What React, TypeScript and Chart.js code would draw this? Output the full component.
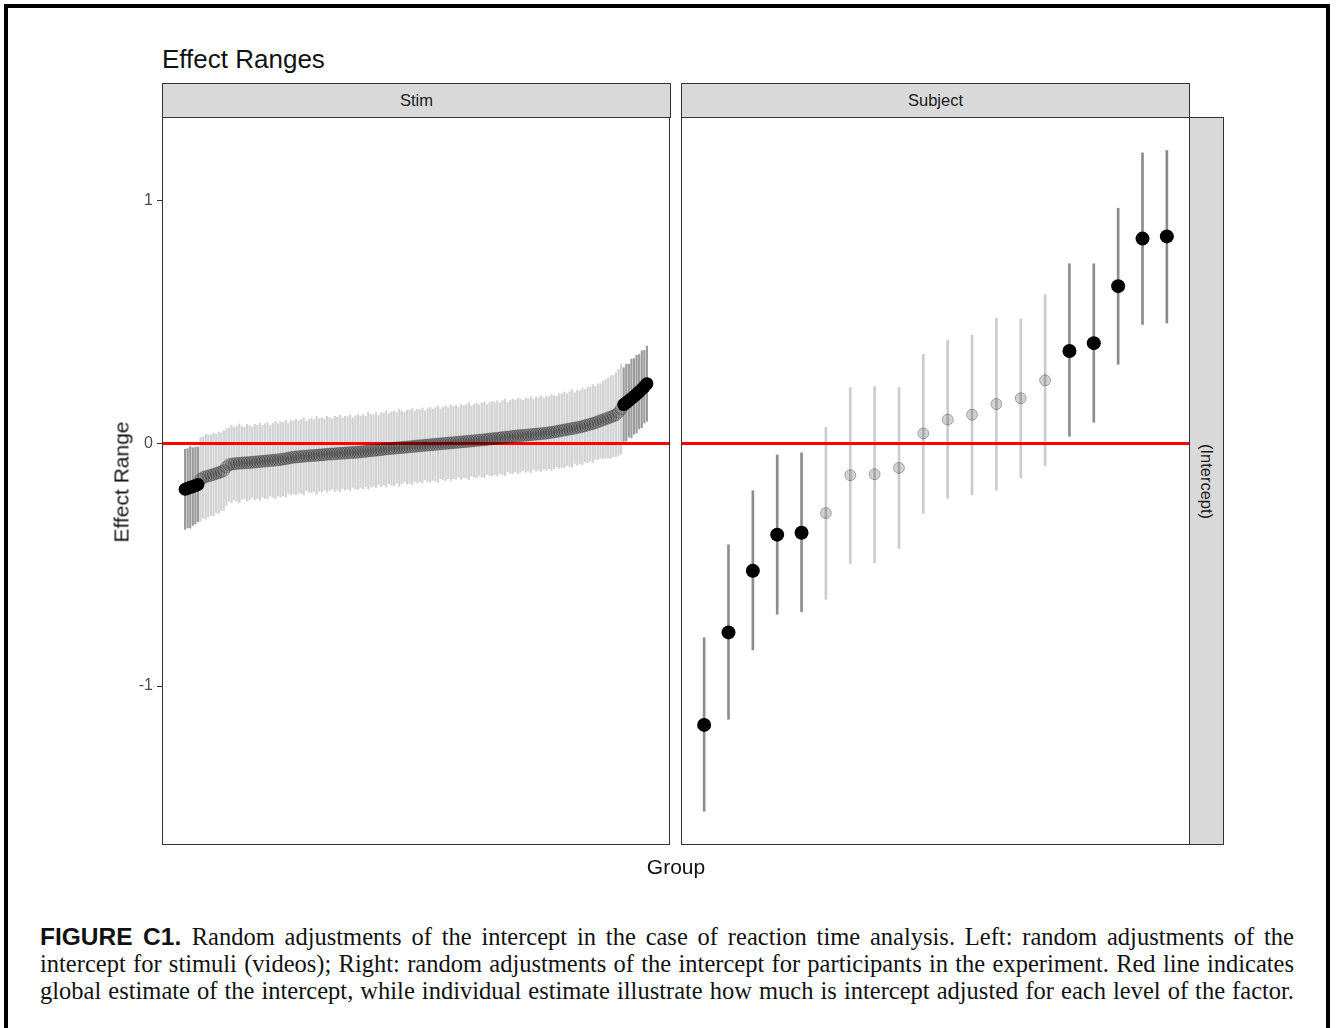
import React, { useEffect, useRef } from "react";
import { Chart, registerables } from "chart.js";

Chart.register(...registerables);

// ---------- text ----------
const TITLE = "Effect Ranges";
const Y_TITLE = "Effect Range";
const X_TITLE = "Group";
const FACETS = ["Stim", "Subject"];
const ROW_STRIP = "(Intercept)";
const CAPTION_LEAD = "FIGURE C1.";
const CAPTION_LINES = [
  "Random adjustments of the intercept in the case of reaction time analysis. Left: random adjustments of the",
  "intercept for stimuli (videos); Right: random adjustments of the intercept for participants in the experiment. Red line indicates",
  "global estimate of the intercept, while individual estimate illustrate how much is intercept adjusted for each level of the factor.",
];

// ---------- axis ----------
const Y_TICKS = [-1, 0, 1];
const Y_RANGE = [-1.655, 1.345];
const REF_VALUE = 0;

// ---------- Stim (left panel): estimate and half-width of interval ----------
const STIM_MID = [
  -0.189, -0.185, -0.181, -0.178, -0.174, -0.169,
  -0.148, -0.141, -0.137, -0.134, -0.131, -0.128, -0.124, -0.121, -0.117, -0.112,
  -0.097, -0.088,
  -0.085, -0.084, -0.083, -0.082, -0.081, -0.080, -0.080, -0.079, -0.078, -0.077, -0.076, -0.075, -0.074,
  -0.073, -0.072, -0.071, -0.070, -0.069, -0.068, -0.066, -0.065, -0.063, -0.061, -0.059, -0.057,
  -0.056, -0.055, -0.054, -0.053, -0.052, -0.051, -0.050, -0.050, -0.049, -0.048, -0.047, -0.046, -0.045,
  -0.044, -0.044, -0.043, -0.042, -0.041, -0.041, -0.040, -0.039, -0.038, -0.038, -0.037, -0.036, -0.035,
  -0.034, -0.033, -0.031, -0.030, -0.029, -0.028, -0.027, -0.026, -0.024, -0.023, -0.022, -0.021, -0.020,
  -0.019, -0.018, -0.017, -0.016, -0.015, -0.014, -0.013, -0.012, -0.011, -0.010, -0.009, -0.008, -0.007,
  -0.006, -0.005, -0.004, -0.003, -0.002, -0.001, 0.000, 0.001, 0.002, 0.003, 0.004, 0.005, 0.006,
  0.007, 0.008, 0.009, 0.010, 0.011, 0.012, 0.013, 0.014, 0.015, 0.016, 0.018, 0.019,
  0.020, 0.021, 0.022, 0.024, 0.025, 0.026, 0.027, 0.029, 0.030, 0.031, 0.032, 0.033, 0.034,
  0.035, 0.036, 0.037, 0.038, 0.039, 0.040, 0.041, 0.042, 0.044, 0.045, 0.047, 0.049, 0.051,
  0.053, 0.055, 0.057, 0.059, 0.061, 0.063, 0.065, 0.067, 0.070, 0.073, 0.076, 0.079, 0.082, 0.085, 0.089,
  0.093, 0.097, 0.101, 0.105, 0.109, 0.113, 0.118, 0.128, 0.142,
  0.160, 0.168, 0.176, 0.185, 0.194, 0.203, 0.213, 0.223, 0.234, 0.246,
];
const STIM_HW = [
  0.165, 0.163, 0.168, 0.160, 0.158, 0.154,
  0.172, 0.168, 0.175, 0.170, 0.166, 0.171, 0.162, 0.168, 0.160, 0.164,
  0.158, 0.152, 0.160, 0.149, 0.155, 0.162, 0.150, 0.147, 0.158, 0.153, 0.145, 0.156, 0.151, 0.159,
  0.148, 0.154, 0.157, 0.146, 0.152, 0.160, 0.149, 0.155, 0.151, 0.158, 0.144, 0.153, 0.150,
  0.156, 0.148, 0.152, 0.159, 0.143, 0.150, 0.155, 0.147, 0.161, 0.149, 0.153, 0.146, 0.157,
  0.151, 0.144, 0.155, 0.150, 0.158, 0.146, 0.152, 0.149, 0.156, 0.143, 0.151, 0.154, 0.147,
  0.153, 0.145, 0.158, 0.150, 0.147, 0.155, 0.142, 0.152, 0.148, 0.157, 0.144, 0.151, 0.154,
  0.146, 0.159, 0.149, 0.143, 0.153, 0.150, 0.156, 0.145, 0.152, 0.148, 0.155, 0.142, 0.150,
  0.154, 0.147, 0.151, 0.158, 0.144, 0.150, 0.153, 0.146, 0.157, 0.149, 0.152, 0.143, 0.155,
  0.148, 0.151, 0.159, 0.145, 0.150, 0.154, 0.147, 0.152, 0.156, 0.144, 0.150, 0.153,
  0.149, 0.155, 0.146, 0.152, 0.158, 0.143, 0.150, 0.154, 0.147, 0.156, 0.151, 0.145, 0.153,
  0.149, 0.157, 0.144, 0.152, 0.150, 0.155, 0.146, 0.153, 0.148, 0.156, 0.150, 0.145, 0.154,
  0.151, 0.157, 0.148, 0.153, 0.160, 0.146, 0.154, 0.150, 0.158, 0.149, 0.155, 0.152, 0.161,
  0.150, 0.156, 0.153, 0.159, 0.162,
  0.165, 0.170, 0.168, 0.172, 0.178, 0.185,
  0.152, 0.158, 0.150, 0.162, 0.155, 0.160, 0.153, 0.158, 0.150, 0.155,
];
const STIM_LO = STIM_MID.map((m, i) => m - STIM_HW[i]);
const STIM_HI = STIM_MID.map((m, i) => m + STIM_HW[i]);

// ---------- Subject (right panel) ----------
const SUBJ_MID = [-1.160, -0.779, -0.525, -0.376, -0.368, -0.287, -0.131, -0.127, -0.101, 0.041,
  0.098, 0.118, 0.162, 0.186, 0.260, 0.381, 0.413, 0.648, 0.844, 0.853];
const SUBJ_HI = [-0.801, -0.418, -0.195, -0.048, -0.039, 0.066, 0.230, 0.234, 0.230, 0.367,
  0.426, 0.446, 0.516, 0.512, 0.613, 0.740, 0.740, 0.969, 1.197, 1.207];
const SUBJ_LO = [-1.516, -1.137, -0.851, -0.704, -0.694, -0.643, -0.496, -0.492, -0.433, -0.289,
  -0.227, -0.212, -0.193, -0.142, -0.092, 0.029, 0.087, 0.326, 0.490, 0.496];

const SANS = '"Liberation Sans", Arial, Helvetica, sans-serif';
const SERIF = '"Liberation Serif", "Times New Roman", serif';

type Style = {
  nsBar: string; sigBar: string; barW: number;
  sigR: number; nsR: number; nsFill: string; nsBorder: string;
};

const panelBox = {
  id: "panelBox",
  afterDraw(chart: any) {
    const { left, top, right, bottom } = chart.chartArea;
    const ctx = chart.ctx;
    ctx.save();
    ctx.strokeStyle = "#333333";
    ctx.lineWidth = 1;
    ctx.strokeRect(Math.round(left) + 0.5, Math.round(top) + 0.5,
      Math.round(right - left) - 1, Math.round(bottom - top) - 1);
    ctx.restore();
  },
};

function buildConfig(mid: number[], lo: number[], hi: number[], st: Style, showY: boolean,
  pad: { left: number; right: number; top: number; bottom: number }, yWidth: number): any {
  const n = mid.length;
  const ex = 0.05 * (n - 1);
  const xMin = 1 - ex;
  const xMax = n + ex;
  const idx = mid.map((_, i) => i);
  const isSig = (i: number) => hi[i] < REF_VALUE || lo[i] > REF_VALUE;
  const sig = idx.filter(isSig);
  const ns = idx.filter((i) => !isSig(i));
  const bars = (ids: number[]) => ids.map((i) => ({ x: i + 1, y: [lo[i], hi[i]] }));
  const pts = (ids: number[]) => ids.map((i) => ({ x: i + 1, y: mid[i] }));
  return {
    type: "bar",
    data: {
      datasets: [
        { type: "bar", data: bars(ns), backgroundColor: st.nsBar, borderWidth: 0, barThickness: st.barW, grouped: false, order: 5 },
        { type: "bar", data: bars(sig), backgroundColor: st.sigBar, borderWidth: 0, barThickness: st.barW, grouped: false, order: 4 },
        { type: "line", data: [{ x: xMin, y: REF_VALUE }, { x: xMax, y: REF_VALUE }], borderColor: "#ff0000", borderWidth: 3, pointRadius: 0, order: 3 },
        { type: "scatter", data: pts(ns), backgroundColor: st.nsFill, borderColor: st.nsBorder, borderWidth: 1, pointRadius: st.nsR, order: 2 },
        { type: "scatter", data: pts(sig), backgroundColor: "#000000", borderColor: "#000000", borderWidth: 0, pointRadius: st.sigR, order: 1 },
      ],
    },
    options: {
      responsive: false,
      animation: false,
      events: [],
      layout: { padding: pad },
      plugins: { legend: { display: false }, tooltip: { enabled: false }, title: { display: false } },
      scales: {
        x: { type: "linear", min: xMin, max: xMax, offset: false, display: false },
        y: {
          type: "linear",
          min: Y_RANGE[0],
          max: Y_RANGE[1],
          display: showY,
          afterBuildTicks: (s: any) => { s.ticks = Y_TICKS.map((v) => ({ value: v })); },
          afterFit: (s: any) => { s.width = yWidth; },
          border: { display: false },
          grid: { display: true, drawOnChartArea: false, drawTicks: true, tickLength: 5, tickColor: "#333333", tickWidth: 1 },
          ticks: { color: "#4d4d4d", font: { family: SANS, size: 16 }, padding: 4, autoSkip: false },
        },
      },
    },
    plugins: [panelBox],
  };
}

function Panel(props: { make: () => any; left: number; width: number; height: number }) {
  const ref = useRef<HTMLCanvasElement>(null);
  useEffect(() => {
    const chart = new Chart(ref.current as HTMLCanvasElement, props.make());
    return () => chart.destroy();
  }, []);
  return (
    <canvas ref={ref} width={props.width} height={props.height}
      style={{ position: "absolute", left: props.left, top: 0, width: props.width, height: props.height, display: "block" }} />
  );
}

const stripStyle: React.CSSProperties = {
  position: "absolute", background: "#d9d9d9", border: "1px solid #333333", boxSizing: "border-box",
  display: "flex", alignItems: "center", justifyContent: "center",
  fontFamily: SANS, fontSize: 16.5, color: "#1a1a1a",
};

export default function App() {
  const leftStyle: Style = { nsBar: "#d2d2d2", sigBar: "#9a9a9a", barW: 1.5, sigR: 6.5, nsR: 6, nsFill: "rgba(0,0,0,0.13)", nsBorder: "rgba(0,0,0,0.24)" };
  const rightStyle: Style = { nsBar: "#cccccc", sigBar: "#8c8c8c", barW: 2, sigR: 7, nsR: 5.5, nsFill: "rgba(0,0,0,0.18)", nsBorder: "rgba(0,0,0,0.28)" };
  return (
    <div style={{ position: "fixed", left: 0, top: 0, width: 1338, height: 1028, overflow: "hidden", background: "#ffffff" }}>
      <div style={{ position: "absolute", left: 4, top: 4, width: 1326, height: 1100, border: "4px solid #000", boxSizing: "border-box" }} />
      <div style={{ position: "absolute", left: 162, top: 46, fontFamily: SANS, fontSize: 26, lineHeight: "26px", color: "#111", whiteSpace: "nowrap" }}>{TITLE}</div>

      <Panel left={0} width={680} height={900}
        make={() => buildConfig(STIM_MID, STIM_LO, STIM_HI, leftStyle, true, { left: 0, right: 10, top: 117, bottom: 55 }, 162)} />
      <Panel left={670} width={600} height={900}
        make={() => buildConfig(SUBJ_MID, SUBJ_LO, SUBJ_HI, rightStyle, false, { left: 11, right: 80, top: 117, bottom: 55 }, 0)} />

      <div style={{ ...stripStyle, left: 162, top: 83, width: 509, height: 35 }}>{FACETS[0]}</div>
      <div style={{ ...stripStyle, left: 681, top: 83, width: 509, height: 35 }}>{FACETS[1]}</div>
      <div style={{ ...stripStyle, left: 1189, top: 117, width: 35, height: 728 }}>
        <span style={{ display: "inline-block", transform: "rotate(90deg)", whiteSpace: "nowrap" }}>{ROW_STRIP}</span>
      </div>

      <div style={{ position: "absolute", left: 121, top: 482, transform: "translate(-50%,-50%) rotate(-90deg)", fontFamily: SANS, fontSize: 21, lineHeight: "21px", color: "#111", whiteSpace: "nowrap" }}>{Y_TITLE}</div>
      <div style={{ position: "absolute", left: 676, top: 866, transform: "translate(-50%,-50%)", fontFamily: SANS, fontSize: 21, lineHeight: "21px", color: "#111", whiteSpace: "nowrap" }}>{X_TITLE}</div>

      <div style={{ position: "absolute", left: 40, top: 923, width: 1254, fontFamily: SERIF, fontSize: 24.5, lineHeight: "27px", color: "#111" }}>
        {CAPTION_LINES.map((ln, i) => (
          <div key={i} style={{ textAlign: "justify", textAlignLast: "justify", whiteSpace: "nowrap" }}>
            {i === 0 ? <b style={{ fontFamily: SANS, fontWeight: 700 }}>{CAPTION_LEAD} </b> : null}
            {ln}
          </div>
        ))}
      </div>
    </div>
  );
}
